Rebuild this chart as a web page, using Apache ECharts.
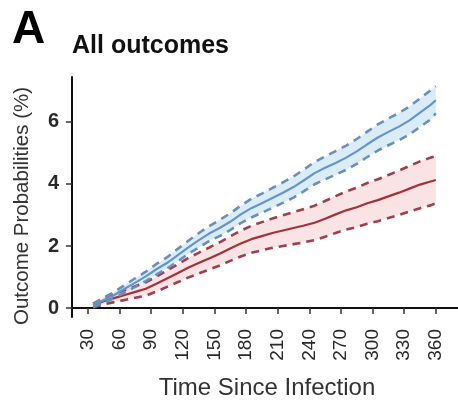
<!DOCTYPE html>
<html><head><meta charset="utf-8">
<script src="https://cdn.jsdelivr.net/npm/echarts@6/dist/echarts.min.js"></script>
<style>html,body{margin:0;padding:0;background:#fff}#c{width:458px;height:403px}</style>
</head><body><div id="c"></div>
<script>
var days = [35,45,55,65,75,85,95,105,115,125,135,145,155,165,175,185,195,205,215,225,235,245,255,265,275,285,295,305,315,325,335,345,355,360];
var blueMean  = [0.08,0.25,0.42,0.62,0.82,1.02,1.25,1.45,1.70,1.95,2.18,2.40,2.58,2.78,3.02,3.22,3.38,3.55,3.72,3.90,4.12,4.35,4.52,4.68,4.85,5.05,5.28,5.50,5.68,5.85,6.05,6.30,6.55,6.70];
var blueUpper = [0.13,0.33,0.52,0.74,0.96,1.17,1.42,1.63,1.90,2.16,2.41,2.64,2.84,3.05,3.30,3.52,3.69,3.87,4.05,4.24,4.47,4.71,4.89,5.06,5.24,5.45,5.69,5.92,6.11,6.29,6.50,6.76,7.02,7.15];
var blueLower = [0.03,0.17,0.32,0.50,0.68,0.87,1.08,1.27,1.50,1.74,1.95,2.16,2.32,2.51,2.74,2.92,3.07,3.23,3.39,3.56,3.77,3.99,4.15,4.30,4.46,4.65,4.87,5.08,5.25,5.41,5.60,5.84,6.08,6.28];
var redMean   = [0.08,0.22,0.32,0.42,0.52,0.62,0.78,0.95,1.12,1.30,1.45,1.60,1.75,1.92,2.08,2.22,2.32,2.42,2.50,2.58,2.66,2.75,2.88,3.02,3.15,3.25,3.38,3.48,3.60,3.72,3.85,3.98,4.08,4.13];
var redUpper  = [0.14,0.32,0.45,0.58,0.70,0.83,1.01,1.21,1.40,1.61,1.78,1.95,2.12,2.31,2.49,2.65,2.77,2.89,2.99,3.09,3.19,3.30,3.45,3.61,3.76,3.88,4.03,4.15,4.29,4.43,4.58,4.73,4.85,4.90];
var redLower  = [0.02,0.12,0.19,0.26,0.33,0.40,0.53,0.68,0.83,0.98,1.11,1.24,1.37,1.52,1.66,1.78,1.86,1.94,2.00,2.06,2.12,2.19,2.30,2.42,2.53,2.61,2.72,2.80,2.90,3.00,3.11,3.22,3.31,3.38];
var xTicks = [30,60,90,120,150,180,210,240,270,300,330,360];
var yTicks = [0,2,4,6];

function pts(ys){ return days.map(function(d,i){ return [d, ys[i]]; }); }
function band(upper, lower, fill){
  return {type:'custom', silent:true, clip:true, z:1,
    data: days.map(function(d,i){ return [d, lower[i], upper[i]]; }),
    encode:{x:0, y:[1,2]},
    renderItem:function(params, api){
      if(params.dataIndex !== 0) return;
      var p = [];
      for(var i=0;i<days.length;i++) p.push(api.coord([days[i], upper[i]]));
      for(var j=days.length-1;j>=0;j--) p.push(api.coord([days[j], lower[j]]));
      return {type:'polygon', shape:{points:p}, style:{fill:fill}};
    }};
}

var chart = echarts.init(document.getElementById('c'));
var FONT = 'Liberation Sans';
chart.setOption({
  animation:false,
  grid:{left:72, right:0, top:77, bottom:86, containLabel:false},
  xAxis:{type:'value', min:15, max:381,
    axisLine:{show:true, lineStyle:{color:'#111', width:2}},
    axisTick:{show:true, length:6, lineStyle:{color:'#333', width:1.5}, customValues:xTicks},
    axisLabel:{rotate:90, margin:12, fontSize:19, color:'#2a2a2a', fontFamily:FONT, customValues:xTicks},
    splitLine:{show:false}},
  yAxis:{type:'value', min:-0.29, max:7.45,
    axisLine:{show:true, lineStyle:{color:'#111', width:2}},
    axisTick:{show:true, length:6, lineStyle:{color:'#333', width:1.5}, customValues:yTicks},
    axisLabel:{margin:13, fontSize:20, color:'#2a2a2a', fontWeight:'bold', fontFamily:FONT, customValues:yTicks},
    splitLine:{show:false}},
  graphic:[
    {type:'text', left:12, top:7, style:{text:'A', font:'bold 46px "Liberation Sans"', fill:'#000'}},
    {type:'text', left:72, top:34, style:{text:'All outcomes', font:'bold 25px "Liberation Sans"', fill:'#111'}},
    {type:'text', x:22, y:206, rotation:Math.PI/2, style:{text:'Outcome Probabilities (%)', font:'20.5px "Liberation Sans"', fill:'#333', align:'center', verticalAlign:'middle'}},
    {type:'text', x:267, y:388, style:{text:'Time Since Infection', font:'24px "Liberation Sans"', fill:'#333', align:'center', verticalAlign:'middle'}}
  ],
  series:[
    band(redUpper, redLower, 'rgba(240,185,190,0.4)'),
    band(blueUpper, blueLower, 'rgba(175,212,242,0.45)'),
    {type:'line', data:pts(redMean), symbol:'none', z:3, lineStyle:{color:'#a3323b', width:2.2}},
    {type:'line', data:pts(redUpper), symbol:'none', z:3, lineStyle:{color:'#a0404e', width:2.6, type:[8,6]}},
    {type:'line', data:pts(redLower), symbol:'none', z:3, lineStyle:{color:'#a0404e', width:2.6, type:[8,6]}},
    {type:'line', data:pts(blueMean), symbol:'none', z:3, lineStyle:{color:'#6494cb', width:2.2}},
    {type:'line', data:pts(blueUpper), symbol:'none', z:3, lineStyle:{color:'#6a8fb8', width:2.6, type:[8,6]}},
    {type:'line', data:pts(blueLower), symbol:'none', z:3, lineStyle:{color:'#6a8fb8', width:2.6, type:[8,6]}}
  ]
});
</script></body></html>
